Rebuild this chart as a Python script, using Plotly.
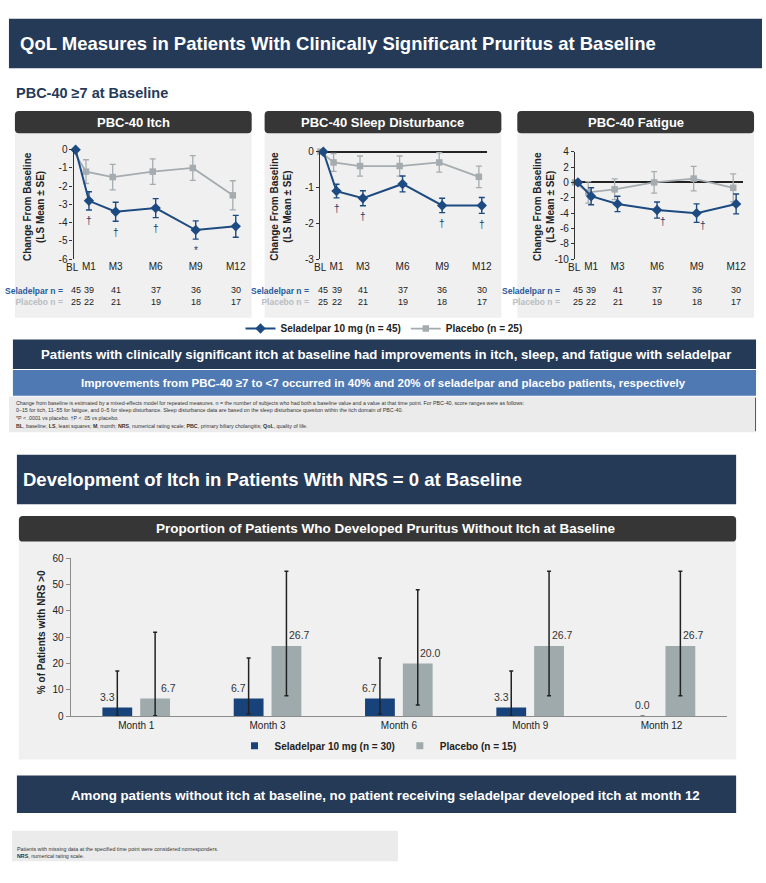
import plotly.graph_objects as go

# ---------------- data ----------------
months = [0, 1, 3, 6, 9, 12]
month_labels = ["BL", "M1", "M3", "M6", "M9", "M12"]

itch_sel = [0, -2.8, -3.4, -3.2, -4.4, -4.2]
itch_sel_se = [0, 0.5, 0.52, 0.52, 0.5, 0.6]
itch_pbo = [0, -1.2, -1.5, -1.2, -1.0, -2.5]
itch_pbo_se = [0, 0.65, 0.7, 0.7, 0.68, 0.8]
itch_sig = ["", "†", "†", "†", "*", ""]

sleep_sel = [0, -1.1, -1.3, -0.9, -1.5, -1.5]
sleep_sel_se = [0, 0.19, 0.21, 0.22, 0.2, 0.22]
sleep_pbo = [0, -0.3, -0.4, -0.4, -0.3, -0.7]
sleep_pbo_se = [0, 0.25, 0.28, 0.28, 0.27, 0.3]
sleep_sig = ["", "†", "†", "", "†", "†"]

fat_sel = [0, -1.8, -2.8, -3.6, -4.0, -2.8]
fat_sel_se = [0, 1.1, 1.0, 1.05, 1.2, 1.3]
fat_pbo = [0, -1.3, -0.9, 0.0, 0.5, -0.7]
fat_pbo_se = [0, 1.4, 1.35, 1.4, 1.6, 1.8]
fat_sig = ["", "", "", "†", "†", ""]

n_sel = [45, 39, 41, 37, 36, 30]
n_pbo = [25, 22, 21, 19, 18, 17]

itch_ticks = [0, -1, -2, -3, -4, -5, -6]
sleep_ticks = [0, -1, -2, -3]
fat_ticks = [4, 2, 0, -2, -4, -6, -8, -10]

bar_months = ["Month 1", "Month 3", "Month 6", "Month 9", "Month 12"]
bar_sel = [3.3, 6.7, 6.7, 3.3, 0.0]
bar_sel_lo = [0.1, 0.8, 0.8, 0.1, 0.0]
bar_sel_hi = [17.2, 22.1, 22.1, 17.2, 0.0]
bar_pbo = [6.7, 26.7, 20.0, 26.7, 26.7]
bar_pbo_lo = [0.2, 7.8, 4.3, 7.8, 7.8]
bar_pbo_hi = [31.9, 55.1, 48.1, 55.1, 55.1]
bar_ticks = [0, 10, 20, 30, 40, 50, 60]

# ---------------- style ----------------
W, H = 766, 883
NAVY = "#253a57"
DARK = "#363636"
PANEL = "#f0f0f0"
BLUE = "#1d4a80"
GRAY = "#a5acaf"
BAR_BLUE = "#17437a"
BAR_GRAY = "#9eaaab"
MIDBLUE = "#4f79b3"
FOOT = "#ebebeb"
TXT = "#222222"
SANS = "Liberation Sans, Arial, sans-serif"


def fx(x):
    return x / W


def fy(y):
    return 1 - y / H


def P(x, y):
    return f"{fx(x):.5f},{fy(y):.5f}"


def rrect(x0, y0, x1, y1, r, color):
    path = (f"M{P(x0 + r, y0)} L{P(x1 - r, y0)} Q{P(x1, y0)} {P(x1, y0 + r)} "
            f"L{P(x1, y1 - r)} Q{P(x1, y1)} {P(x1 - r, y1)} L{P(x0 + r, y1)} "
            f"Q{P(x0, y1)} {P(x0, y1 - r)} L{P(x0, y0 + r)} Q{P(x0, y0)} {P(x0 + r, y0)} Z")
    return dict(type="path", path=path, xref="paper", yref="paper",
                fillcolor=color, line=dict(width=0), layer="below")


def rect(x0, y0, x1, y1, color):
    return dict(type="rect", xref="paper", yref="paper", x0=fx(x0), x1=fx(x1),
                y0=fy(y1), y1=fy(y0), fillcolor=color, line=dict(width=0), layer="below")


def txt(x, y, text, size, color=TXT, xanchor="center", yanchor="middle", angle=0, align="center"):
    return dict(x=fx(x), y=fy(y), xref="paper", yref="paper", text=text, showarrow=False,
                font=dict(size=size, color=color, family=SANS), xanchor=xanchor,
                yanchor=yanchor, textangle=angle, align=align)


shapes = []
ann = []

# ---------------- top section ----------------
shapes.append(rect(9, 13, 766, 63, NAVY))
ann.append(txt(18, 38, "<b>QoL Measures in Patients With Clinically Significant Pruritus at Baseline</b>",
               18.5, "white", xanchor="left"))
ann.append(txt(14, 88, "<b>PBC-40 ≥7 at Baseline</b>", 14.5, NAVY, xanchor="left"))

panels = [
    dict(title="PBC-40 Itch", sel=itch_sel, sel_se=itch_sel_se, pbo=itch_pbo, pbo_se=itch_pbo_se,
         sig=itch_sig, ticks=itch_ticks, yr=(-6, 0), box=(15, 253), ax_x=74, bl_x=76, m12_x=237,
         right_x=247, top=145.7, bot=256.7, zero=False, ytitle_x=34, lab_x=65, sig_side=False),
    dict(title="PBC-40 Sleep Disturbance", sel=sleep_sel, sel_se=sleep_sel_se, pbo=sleep_pbo,
         pbo_se=sleep_pbo_se, sig=sleep_sig, ticks=sleep_ticks, yr=(-3, 0), box=(266, 504),
         ax_x=321.7, bl_x=325, m12_x=484.3, right_x=490, top=147.7, bot=256.7, zero=True,
         ytitle_x=283, lab_x=313, sig_side=False),
    dict(title="PBC-40 Fatigue", sel=fat_sel, sel_se=fat_sel_se, pbo=fat_pbo, pbo_se=fat_pbo_se,
         sig=fat_sig, ticks=fat_ticks, yr=(-10, 4), box=(520, 758), ax_x=578, bl_x=581, m12_x=740,
         right_x=747, top=147.7, bot=256.7, zero=True, ytitle_x=547.5, lab_x=565, sig_side=True),
]

fig = go.Figure()
layout_axes = {}
for k, p in enumerate(panels, start=1):
    xa, ya = f"x{k}", f"y{k}"
    bx0, bx1 = p["box"]
    shapes.append(rect(bx0, 128, bx1, 316, PANEL))
    shapes.append(rrect(bx0, 106.5, bx1, 129, 4, DARK))
    ann.append(txt((bx0 + bx1) / 2, 118, f"<b>{p['title']}</b>", 13, "white"))

    scale = (p["m12_x"] - p["bl_x"]) / 12.0
    xr = [(p["ax_x"] - p["bl_x"]) / scale, (p["right_x"] - p["bl_x"]) / scale]
    xname = "xaxis" if k == 1 else f"xaxis{k}"
    yname = "yaxis" if k == 1 else f"yaxis{k}"
    # the BL label sits a little left of its tick (drawn as an annotation below)
    layout_axes[xname] = dict(domain=[fx(p["ax_x"]), fx(p["right_x"])], range=xr, anchor=ya,
                              tickmode="array", tickvals=months[1:], ticktext=month_labels[1:],
                              tickangle=0, showline=False, showgrid=False, zeroline=False,
                              ticks="", tickfont=dict(size=10, color=TXT, family=SANS))
    ann.append(dict(x=months[0], y=fy(265), xref=xa, yref="paper", text=month_labels[0],
                    showarrow=False, font=dict(size=10, color=TXT, family=SANS),
                    xanchor="center", yanchor="middle", xshift=-3))
    layout_axes[yname] = dict(domain=[fy(p["bot"]), fy(p["top"])], range=list(p["yr"]), anchor=xa,
                              tickmode="array", tickvals=p["ticks"],
                              ticktext=[str(t) for t in p["ticks"]],
                              showline=True, linecolor="#333", linewidth=1.3, ticks="outside",
                              ticklen=3, tickcolor="#333", showgrid=False,
                              zeroline=p["zero"], zerolinecolor="#222", zerolinewidth=1.5,
                              tickfont=dict(size=10, color=TXT, family=SANS))

    fig.add_trace(go.Scatter(
        x=[m - 0.22 for m in months], y=p["pbo"], xaxis=xa, yaxis=ya, mode="lines+markers",
        line=dict(color=GRAY, width=1.8), marker=dict(symbol="square", size=6.5, color=GRAY),
        error_y=dict(type="data", array=p["pbo_se"], color=GRAY, thickness=1.3, width=3),
        cliponaxis=False, name="<b>Placebo (n = 25)</b>", showlegend=(k == 1), legendrank=2,
        legend="legend"))
    fig.add_trace(go.Scatter(
        x=months, y=p["sel"], xaxis=xa, yaxis=ya, mode="lines+markers",
        line=dict(color=BLUE, width=2), marker=dict(symbol="diamond", size=8, color=BLUE),
        error_y=dict(type="data", array=p["sel_se"], color=BLUE, thickness=1.4, width=3),
        cliponaxis=False, name="<b>Seladelpar 10 mg (n = 45)</b>", showlegend=(k == 1),
        legendrank=1, legend="legend"))

    # significance marks
    for m, v, se, s in zip(months, p["sel"], p["sel_se"], p["sig"]):
        if not s:
            continue
        if p["sig_side"]:
            ann.append(dict(x=m, y=v - se, xref=xa, yref=ya, text=s, showarrow=False,
                            font=dict(size=10, color="#1d3a63", family=SANS), xshift=6, yshift=-3,
                            xanchor="center", yanchor="middle"))
        else:
            ann.append(dict(x=m, y=v - se, xref=xa, yref=ya, text=s, showarrow=False,
                            font=dict(size=10, color="#1d3a63", family=SANS), yshift=-11,
                            xanchor="center", yanchor="middle"))

    # y-axis title
    ann.append(txt(p["ytitle_x"], 203, "<b>Change From Baseline<br>(LS Mean ± SE)</b>", 10,
                   TXT, angle=-90))
    # n rows
    ann.append(txt(p["lab_x"], 294,
                   "<b><span style='color:#2a5b9c'>Seladelpar n =</span><br>"
                   "<span style='color:#b8bec2'>Placebo n =</span></b>",
                   8.5, TXT, xanchor="right", align="right"))
    for m, a, b in zip(months, n_sel, n_pbo):
        ann.append(dict(x=m, y=fy(294), xref=xa, yref="paper", text=f"{a}<br>{b}",
                        showarrow=False, font=dict(size=9, color=TXT, family=SANS),
                        xanchor="center", yanchor="middle"))

# banners
shapes.append(rect(13, 338, 760, 368, NAVY))
ann.append(txt(388, 353, "<b>Patients with clinically significant itch at baseline had improvements "
                         "in itch, sleep, and fatigue with seladelpar</b>", 13.2, "white"))
shapes.append(rect(13, 369, 760, 395, MIDBLUE))
ann.append(txt(386, 382, "<b>Improvements from PBC-40 ≥7 to &lt;7 occurred in 40% and 20% of "
                         "seladelpar and placebo patients, respectively</b>", 11.5, "white"))
shapes.append(rect(9, 396, 760, 432, FOOT))
shapes.append(dict(type="line", xref="paper", yref="paper", x0=fx(759.5), x1=fx(759.5),
                   y0=fy(431), y1=fy(397), line=dict(color="#555", width=1)))
foot1 = [
    "Change from baseline is estimated by a mixed-effects model for repeated measures. n = the number "
    "of subjects who had both a baseline value and a value at that time point. For PBC-40, score ranges "
    "were as follows:",
    "0–15 for itch, 11–55 for fatigue, and 0–5 for sleep disturbance. Sleep disturbance data are based "
    "on the sleep disturbance question within the itch domain of PBC-40.",
    "*P &lt; .0001 vs placebo. †P &lt; .05 vs placebo.",
    "<b>BL</b>, baseline; <b>LS</b>, least squares; <b>M</b>, month; <b>NRS</b>, numerical rating "
    "scale; <b>PBC</b>, primary biliary cholangitis; <b>QoL</b>, quality of life.",
]
for i, line in enumerate(foot1):
    ann.append(txt(14, 402 + 8 * i, line, 5.3, "#333", xanchor="left"))

# ---------------- bottom section ----------------
shapes.append(rect(17, 455, 740, 505, NAVY))
ann.append(txt(21, 480, "<b>Development of Itch in Patients With NRS = 0 at Baseline</b>", 18.5,
               "white", xanchor="left"))
shapes.append(rect(19, 541, 740, 764, PANEL))
shapes.append(rrect(19, 517, 740, 543, 4, DARK))
ann.append(txt(388, 530, "<b>Proportion of Patients Who Developed Pruritus Without Itch at Baseline</b>",
               13.5, "white"))

idx = list(range(len(bar_months)))
BW = 0.227
OFF_B, OFF_G = -0.258, 0.030
fig.add_trace(go.Bar(
    x=idx, y=bar_sel, xaxis="x4", yaxis="y4", width=BW, offset=OFF_B, marker_color=BAR_BLUE,
    marker_line_width=0, showlegend=False,
    error_y=dict(type="data", symmetric=False, array=[h - v for h, v in zip(bar_sel_hi, bar_sel)],
                 arrayminus=[v - l for v, l in zip(bar_sel, bar_sel_lo)], color="#222",
                 thickness=1.5, width=2)))
fig.add_trace(go.Bar(
    x=idx, y=bar_pbo, xaxis="x4", yaxis="y4", width=BW, offset=OFF_G, marker_color=BAR_GRAY,
    marker_line_width=0, showlegend=False,
    error_y=dict(type="data", symmetric=False, array=[h - v for h, v in zip(bar_pbo_hi, bar_pbo)],
                 arrayminus=[v - l for v, l in zip(bar_pbo, bar_pbo_lo)], color="#222",
                 thickness=1.5, width=2)))
# legend swatches
fig.add_trace(go.Scatter(x=[None], y=[None], xaxis="x4", yaxis="y4", mode="markers",
                         marker=dict(symbol="square", size=7, color=BAR_BLUE),
                         name="<b>Seladelpar 10 mg (n = 30)</b>", legend="legend2"))
fig.add_trace(go.Scatter(x=[None], y=[None], xaxis="x4", yaxis="y4", mode="markers",
                         marker=dict(symbol="square", size=7, color=BAR_GRAY),
                         name="<b>Placebo (n = 15)</b>", legend="legend2"))

for i, (v, hi) in enumerate(zip(bar_sel, bar_sel_hi)):
    ann.append(dict(x=i + OFF_B + BW / 2, y=v, xref="x4", yref="y4", text=f"{v:.1f}",
                    showarrow=False, font=dict(size=10.5, color="#333", family=SANS),
                    xanchor="center", yanchor="bottom", yshift=3, xshift=(-10 if hi > v else 0)))
for i, v in enumerate(bar_pbo):
    ann.append(dict(x=i + OFF_G + BW / 2, y=v, xref="x4", yref="y4", text=f"{v:.1f}",
                    showarrow=False, font=dict(size=10.5, color="#333", family=SANS),
                    xanchor="center", yanchor="bottom", yshift=3, xshift=13))

layout_axes["xaxis4"] = dict(domain=[fx(71), fx(731)], range=[-0.5, 4.5], anchor="y4",
                             tickmode="array", tickvals=idx, ticktext=bar_months, showline=True,
                             linecolor="#8c8c8c", linewidth=1, ticks="", showgrid=False,
                             zeroline=False, tickfont=dict(size=10, color=TXT, family=SANS))
layout_axes["yaxis4"] = dict(domain=[fy(720), fy(560)], range=[0, 60], anchor="x4",
                             tickmode="array", tickvals=bar_ticks, showline=True,
                             linecolor="#8c8c8c", linewidth=1, ticks="outside", ticklen=4,
                             tickcolor="#8c8c8c", showgrid=False, zeroline=False,
                             tickfont=dict(size=10, color=TXT, family=SANS))
ann.append(txt(42, 635, "<b>% of Patients with NRS &gt;0</b>", 10, TXT, angle=-90))

shapes.append(rect(17, 780, 740, 818, NAVY))
ann.append(txt(388, 800, "<b>Among patients without itch at baseline, no patient receiving seladelpar "
                         "developed itch at month 12</b>", 13.3, "white"))
shapes.append(rect(12, 836, 400, 867, FOOT))
ann.append(txt(15, 855, "Patients with missing data at the specified time point were considered "
                        "nonresponders.", 5.3, "#333", xanchor="left"))
ann.append(txt(15, 862, "<b>NRS</b>, numerical rating scale.", 5.3, "#333", xanchor="left"))

fig.update_layout(
    width=W, height=H, autosize=False, margin=dict(l=0, r=0, t=0, b=0),
    paper_bgcolor="white", plot_bgcolor="rgba(0,0,0,0)", shapes=shapes, annotations=ann,
    showlegend=True,
    legend=dict(x=fx(386), y=fy(327), xanchor="center", yanchor="middle", orientation="h",
                font=dict(size=10, color=TXT, family=SANS), bgcolor="rgba(0,0,0,0)",
                itemwidth=30),
    legend2=dict(x=fx(380), y=fy(750), xanchor="center", yanchor="middle", orientation="h",
                 font=dict(size=10, color=TXT, family=SANS), bgcolor="rgba(0,0,0,0)",
                 itemwidth=30),
    **layout_axes,
)

fig.write_html("out.html")
